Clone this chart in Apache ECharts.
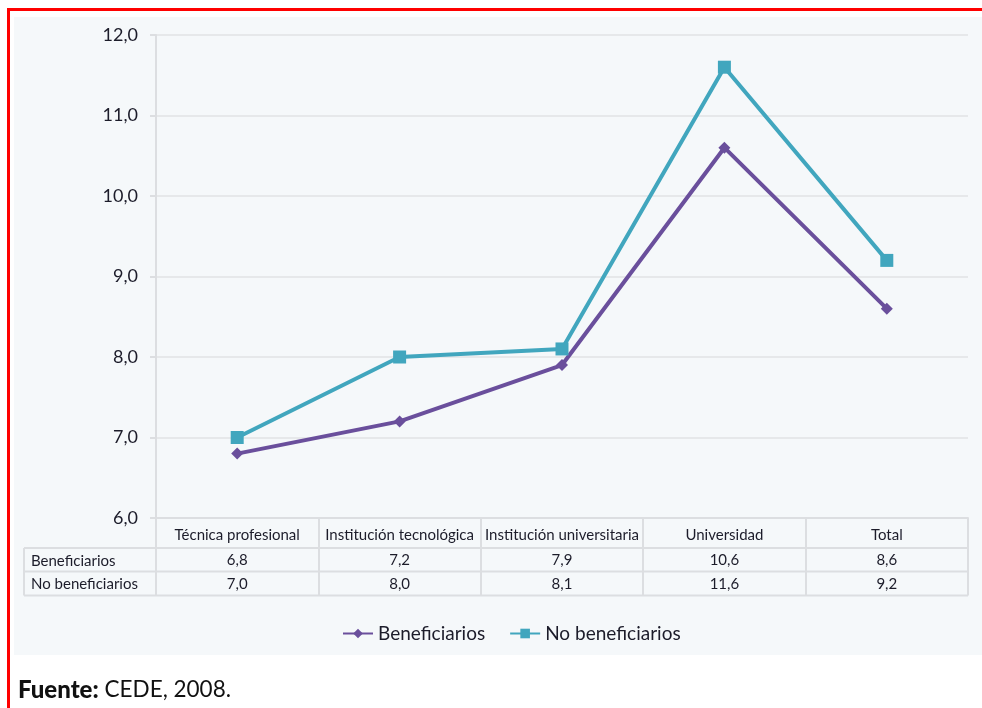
<!DOCTYPE html>
<html>
<head>
<meta charset="utf-8">
<script src="https://cdn.jsdelivr.net/npm/echarts@6/dist/echarts.min.js"></script>
<style>
  html, body { margin: 0; padding: 0; background: #ffffff; }
  #chart { width: 982px; height: 708px; }
</style>
</head>
<body>
<div id="chart"></div>
<script>
// Categories and series values
const categories = ['Técnica profesional', 'Institución tecnológica', 'Institución universitaria', 'Universidad', 'Total'];
const beneficiarios = [6.8, 7.2, 7.9, 10.6, 8.6];
const noBeneficiarios = [7.0, 8.0, 8.1, 11.6, 9.2];
const seriesNames = ['Beneficiarios', 'No beneficiarios'];
const yTicks = { min: 6, max: 12, interval: 1 };
const sourceLabel = 'Fuente:';
const sourceText = ' CEDE, 2008.';

const FONT = 'Lato, "Open Sans", sans-serif';
const PURPLE = '#6a4f9c';
const TEAL = '#41a6be';
const LINE_GRAY = '#dcdee1';
const TEXT = '#1c1c2a';

// Plot rectangle
const G = { left: 156, right: 14, top: 35, bottom: 190 };
const W = 982, H = 708;
const plotRight = W - G.right;
const plotBottom = H - G.bottom;
const rowH = [30, 23.5, 24];      // header row, row 1, row 2
const tableLeft = 24;

const fmt = v => v.toFixed(1).replace('.', ',');

const chart = echarts.init(document.getElementById('chart'), null, { renderer: 'canvas' });

const y1 = plotBottom + rowH[0];
const y2 = y1 + rowH[1];
const y3 = y2 + rowH[2];

const tableLines = [
  [tableLeft, y1, plotRight, y1],
  [tableLeft, y2, plotRight, y2],
  [tableLeft, y3, plotRight, y3],
  [tableLeft, y1, tableLeft, y3]
].map(p => ({
  type: 'line', silent: true, z: 5,
  shape: { x1: p[0], y1: p[1], x2: p[2], y2: p[3] },
  style: { stroke: LINE_GRAY, lineWidth: 2 }
}));

const rowLabels = seriesNames.map((n, i) => ({
  type: 'text', z: 6,
  x: tableLeft + 7, y: (i === 0 ? (y1 + y2) / 2 : (y2 + y3) / 2) + 1,
  style: { text: n, font: '15px ' + FONT, fill: TEXT, verticalAlign: 'middle', align: 'left' }
}));

chart.setOption({
  backgroundColor: '#ffffff',
  animation: false,
  textStyle: { fontFamily: FONT },
  graphic: [
    { type: 'rect', z: -10, shape: { x: 14, y: 17, width: W - 14, height: 638 }, style: { fill: '#f5f8fa' } },
    { type: 'line', z: 10, shape: { x1: 7, y1: 9.5, x2: W, y2: 9.5 }, style: { stroke: '#ff0000', lineWidth: 3 } },
    { type: 'line', z: 10, shape: { x1: 8.5, y1: 8, x2: 8.5, y2: H }, style: { stroke: '#ff0000', lineWidth: 3 } },
    ...tableLines,
    ...rowLabels,
    {
      type: 'text', x: 18, y: 690, z: 10,
      style: {
        text: '{b|' + sourceLabel + '}{n|' + sourceText + '}',
        verticalAlign: 'middle',
        rich: {
          b: { font: '900 24px ' + FONT, fill: '#111111' },
          n: { font: '22.5px ' + FONT, fill: '#111111' }
        }
      }
    }
  ],
  legend: {
    left: 337, top: 619,
    itemWidth: 30, itemHeight: 12, itemGap: 24,
    textStyle: { fontSize: 19, color: TEXT, fontFamily: FONT },
    data: seriesNames
  },
  grid: { left: G.left, right: G.right, top: G.top, bottom: G.bottom, containLabel: false },
  xAxis: {
    type: 'category',
    data: categories,
    boundaryGap: true,
    axisLine: { show: true, lineStyle: { color: LINE_GRAY, width: 2 } },
    axisTick: { show: true, length: rowH[0] + rowH[1] + rowH[2], lineStyle: { color: LINE_GRAY, width: 2 } },
    axisLabel: {
      interval: 0,
      margin: 5,
      verticalAlign: 'top',
      lineHeight: 24.5,
      fontSize: 15,
      color: TEXT,
      fontFamily: FONT,
      formatter: (val, i) => val + '\n' + fmt(beneficiarios[i]) + '\n' + fmt(noBeneficiarios[i])
    }
  },
  yAxis: {
    type: 'value',
    min: yTicks.min, max: yTicks.max, interval: yTicks.interval,
    axisLine: { show: true, lineStyle: { color: LINE_GRAY, width: 2 } },
    axisTick: { show: true, length: 6, lineStyle: { color: LINE_GRAY, width: 2 } },
    splitLine: { show: true, lineStyle: { color: '#e1e3e5', width: 1.5 } },
    axisLabel: {
      margin: 18, fontSize: 18, color: TEXT, fontFamily: FONT,
      formatter: v => fmt(v)
    }
  },
  series: [
    {
      name: seriesNames[0], type: 'line', data: beneficiarios,
      symbol: 'diamond', symbolSize: 12,
      lineStyle: { color: PURPLE, width: 4 },
      itemStyle: { color: PURPLE }, z: 3
    },
    {
      name: seriesNames[1], type: 'line', data: noBeneficiarios,
      symbol: 'rect', symbolSize: 13,
      lineStyle: { color: TEAL, width: 4 },
      itemStyle: { color: TEAL }, z: 4
    }
  ]
});
</script>
</body>
</html>
